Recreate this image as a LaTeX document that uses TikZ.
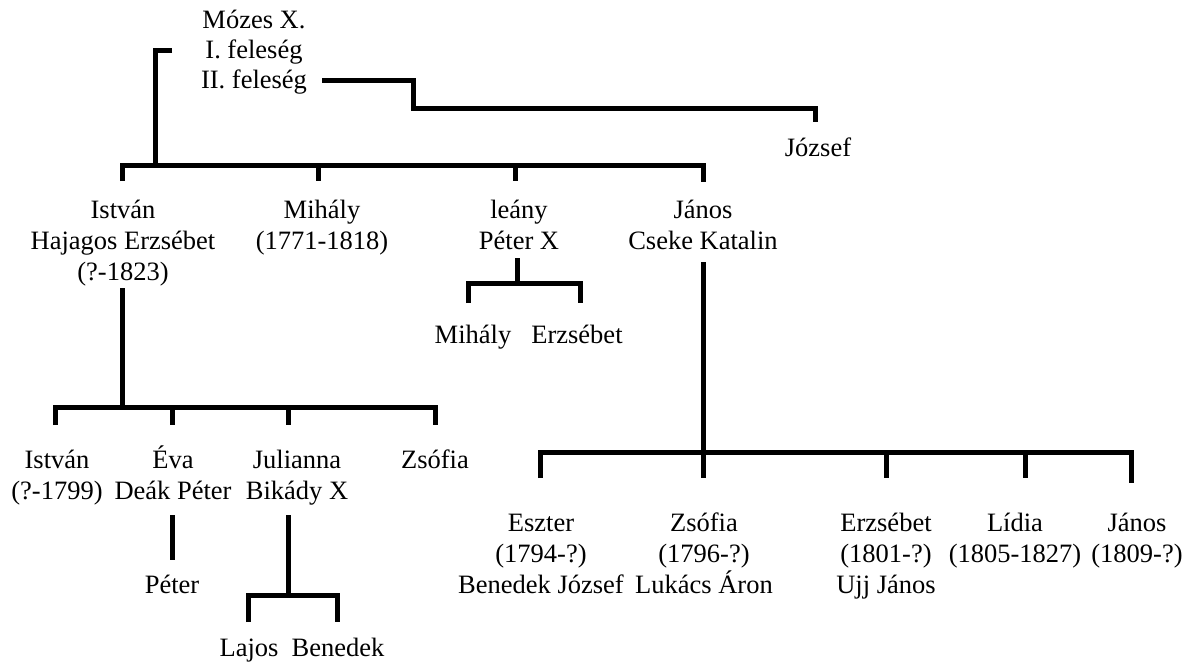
\documentclass[tikz,border=0pt]{standalone}
\usepackage{fontspec}
\setmainfont{Liberation Serif}
\begin{document}
\begin{tikzpicture}[x=1pt,y=-1pt,
  person/.style={align=center,inner sep=0pt,anchor=base,font=\fontsize{26.5}{31}\selectfont},
  conn/.style={line width=5pt,line join=miter}]
\useasboundingbox (0,0) rectangle (1195,665);
% people (anchor=base is the baseline of the last line)
\node[person,font=\fontsize{26.5}{30}\selectfont] (mozes) at (254,88) {Mózes X.\\I. feleség\\II. feleség};
\node[person] (jozsef) at (818,156) {József};
\node[person] (istvan) at (123,280) {István\\Hajagos Erzsébet\\(?-1823)};
\node[person] (mihaly) at (322,249) {Mihály\\(1771-1818)};
\node[person] (leany) at (519,249) {leány\\Péter X};
\node[person] (janos) at (703,249) {János\\Cseke Katalin};
\node[person] (mihaly2) at (473,343) {Mihály};
\node[person] (erzsebet2) at (577,343) {Erzsébet};
\node[person] (istvan3) at (57,499) {István\\(?-1799)};
\node[person] (eva) at (173,499) {Éva\\Deák Péter};
\node[person] (julianna) at (297,499) {Julianna\\Bikády X};
\node[person] (zsofia3) at (435,468) {Zsófia};
\node[person] (peter) at (172,593) {Péter};
\node[person] (lajos) at (249,656) {Lajos};
\node[person] (benedek) at (338,656) {Benedek};
\node[person] (eszter) at (541,593) {Eszter\\(1794-?)\\Benedek József};
\node[person] (zsofia4) at (704,593) {Zsófia\\(1796-?)\\Lukács Áron};
\node[person] (erzsebet4) at (886,593) {Erzsébet\\(1801-?)\\Ujj János};
\node[person] (lidia) at (1015,562) {Lídia\\(1805-1827)};
\node[person] (janos4) at (1137,562) {János\\(1809-?)};
% junction coordinates
\coordinate (wA) at (172,50);
\coordinate (wB) at (155,50);
\coordinate (wC) at (155,165);
\coordinate (sA) at (322,80);
\coordinate (sB) at (413,80);
\coordinate (sC) at (413,108);
\coordinate (sD) at (815,108);
\coordinate (sE) at (815,122);
\coordinate (gL) at (122,181);
\coordinate (gL2) at (122,165);
\coordinate (gR2) at (703,165);
\coordinate (gR) at (703,182);
\coordinate (gM1) at (318,165);
\coordinate (gM1b) at (318,181);
\coordinate (gM2) at (515,165);
\coordinate (gM2b) at (515,181);
\coordinate (iT) at (122,288);
\coordinate (iB) at (122,407);
\coordinate (hL) at (55,425);
\coordinate (hL2) at (55,407);
\coordinate (hR2) at (435,407);
\coordinate (hR) at (435,425);
\coordinate (hM1) at (172,407);
\coordinate (hM1b) at (172,425);
\coordinate (hM2) at (288,407);
\coordinate (hM2b) at (288,425);
\coordinate (eT) at (172,515);
\coordinate (eB) at (172,560);
\coordinate (jT) at (288,515);
\coordinate (jB) at (288,595);
\coordinate (kL) at (248,622);
\coordinate (kL2) at (248,595);
\coordinate (kR2) at (337,595);
\coordinate (kR) at (337,622);
\coordinate (lT) at (517,258);
\coordinate (lB) at (517,283);
\coordinate (mL) at (468,303);
\coordinate (mL2) at (468,283);
\coordinate (mR2) at (580,283);
\coordinate (mR) at (580,303);
\coordinate (nT) at (703,262);
\coordinate (nB) at (703,452);
\coordinate (pL) at (540,478);
\coordinate (pL2) at (540,452);
\coordinate (pR2) at (1131,452);
\coordinate (pR) at (1131,483);
\coordinate (pM1b) at (703,478);
\coordinate (pM2) at (886,452);
\coordinate (pM2b) at (886,478);
\coordinate (pM3) at (1025,452);
\coordinate (pM3b) at (1025,478);
% connectors
\draw[conn] (wA) -- (wB) -- (wC);
\draw[conn] (sA) -- (sB) -- (sC) -- (sD) -- (sE);
\draw[conn] (gL) -- (gL2) -- (gR2) -- (gR);
\draw[conn] (gM1) -- (gM1b);
\draw[conn] (gM2) -- (gM2b);
\draw[conn] (iT) -- (iB);
\draw[conn] (hL) -- (hL2) -- (hR2) -- (hR);
\draw[conn] (hM1) -- (hM1b);
\draw[conn] (hM2) -- (hM2b);
\draw[conn] (eT) -- (eB);
\draw[conn] (jT) -- (jB);
\draw[conn] (kL) -- (kL2) -- (kR2) -- (kR);
\draw[conn] (lT) -- (lB);
\draw[conn] (mL) -- (mL2) -- (mR2) -- (mR);
\draw[conn] (nT) -- (nB) -- (pM1b);
\draw[conn] (pL) -- (pL2) -- (pR2) -- (pR);
\draw[conn] (pM2) -- (pM2b);
\draw[conn] (pM3) -- (pM3b);
\end{tikzpicture}
\end{document}
